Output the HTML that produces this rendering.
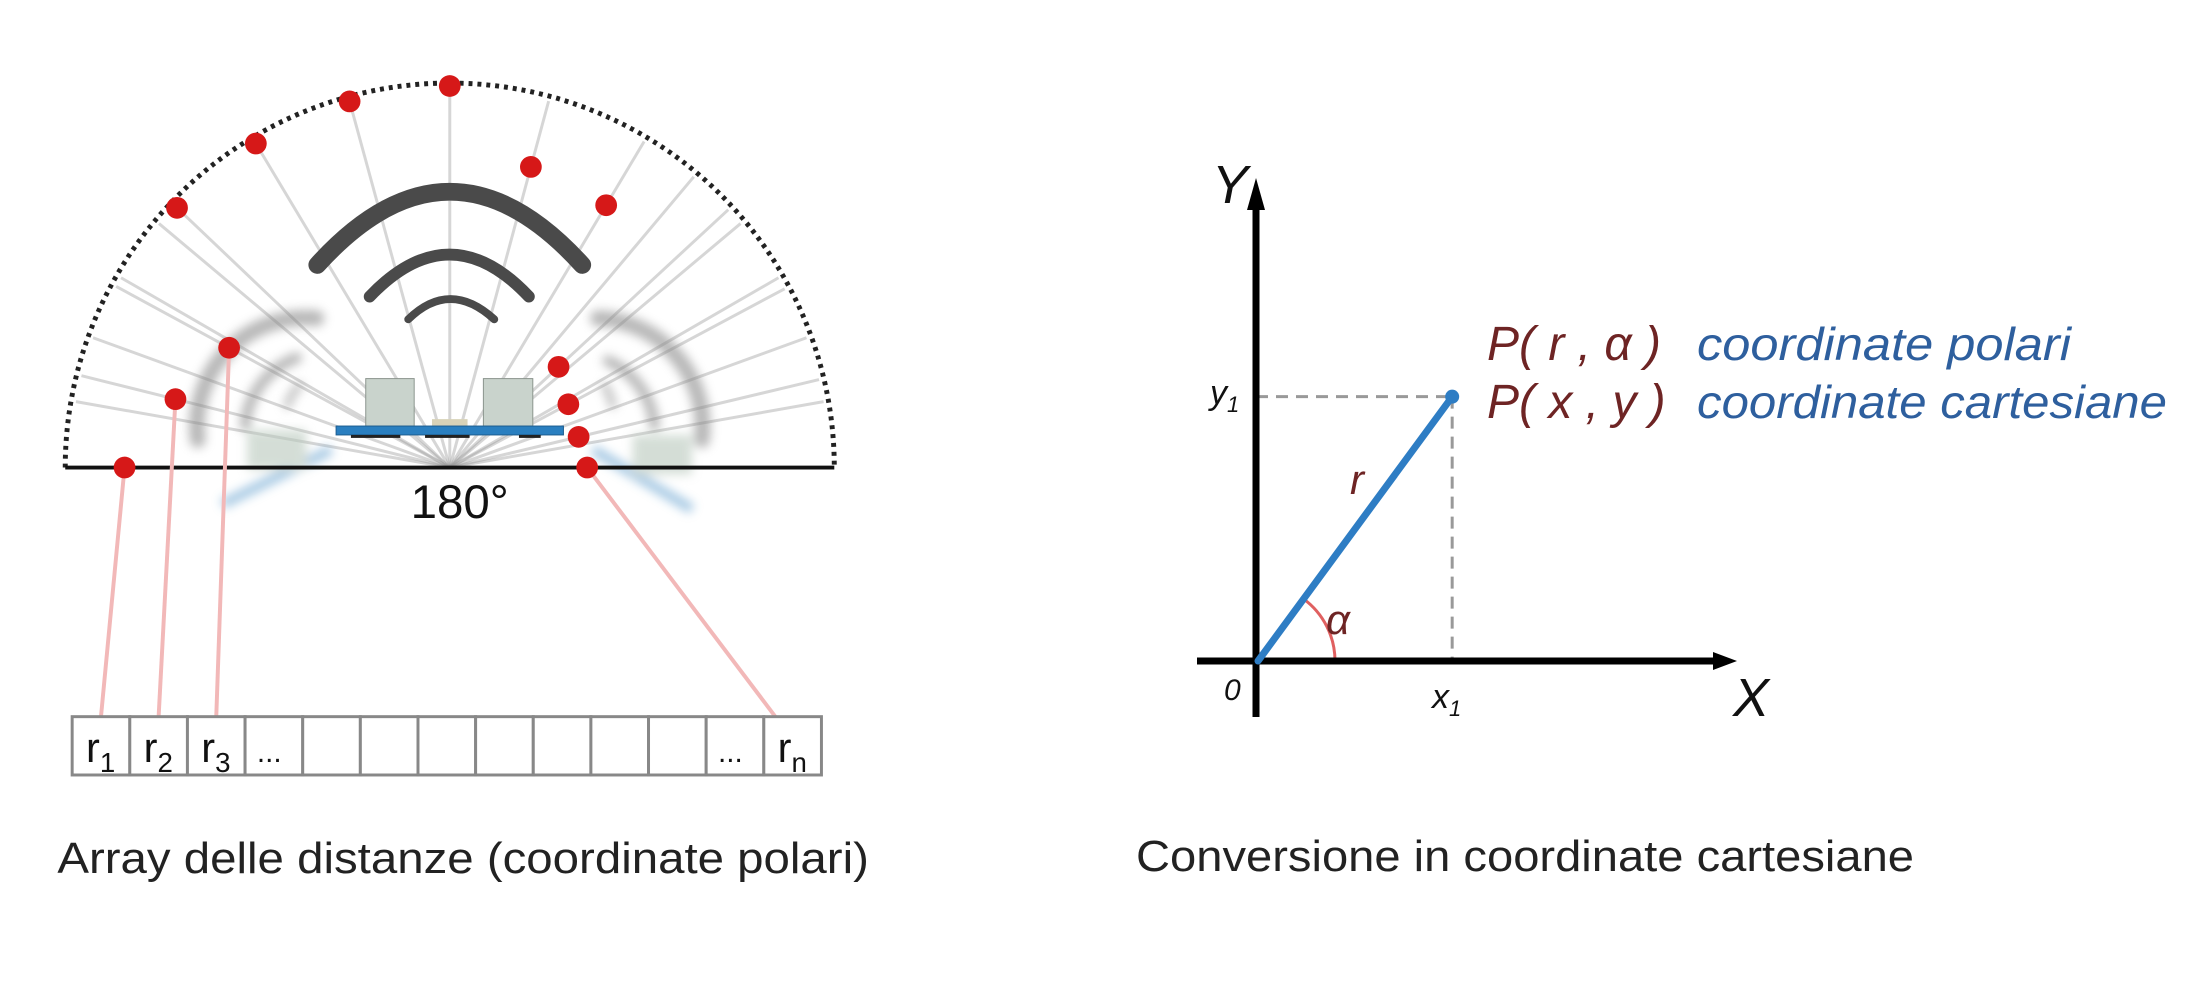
<!DOCTYPE html>
<html><head><meta charset="utf-8"><style>
html,body{margin:0;padding:0;background:#fff;}
svg{display:block;font-family:"Liberation Sans","DejaVu Sans",sans-serif;}
</style></head><body>
<svg id="c" width="2198" height="1000" viewBox="0 0 2198 1000">
<defs>
<filter id="blur" x="-20%" y="-20%" width="140%" height="140%"><feGaussianBlur stdDeviation="5"/></filter>
</defs>
<g id="left" transform="scale(0.9885)">
  <g id="rays"></g>
  <g filter="url(#blur)" opacity="0.6">
    <path d="M200,445 A110,110 0 0 1 320,322" fill="none" stroke="#888" stroke-width="16" stroke-linecap="round"/>
    <path d="M248,430 A80,80 0 0 1 300,362" fill="none" stroke="#888" stroke-width="11" stroke-linecap="round"/>
    <path d="M290,413 A50,50 0 0 1 305,388" fill="none" stroke="#999" stroke-width="8"/>
    <path d="M710,445 A110,110 0 0 0 605,322" fill="none" stroke="#888" stroke-width="16" stroke-linecap="round"/>
    <path d="M662,430 A80,80 0 0 0 615,365" fill="none" stroke="#888" stroke-width="11" stroke-linecap="round"/>
    <path d="M620,413 A50,50 0 0 0 610,388" fill="none" stroke="#999" stroke-width="8"/>
    <path d="M225,510 L335,455" stroke="#6aa4d0" stroke-width="10"/>
    <path d="M600,455 L700,515" stroke="#6aa4d0" stroke-width="10"/>
    <rect x="250" y="435" width="60" height="40" fill="#b8c8bc"/>
    <rect x="640" y="440" width="60" height="40" fill="#b8c8bc"/>
  </g>
  <path d="M66,473 A389,389 0 0 1 844,473" fill="none" stroke="#222" stroke-width="5" stroke-dasharray="4,5"/>
  <line x1="66" y1="473" x2="844" y2="473" stroke="#111" stroke-width="4"/>
  <g fill="none" stroke="#4a4a4a" stroke-linecap="round">
    <path d="M321,268 Q455,120 589,268" stroke-width="18"/>
    <path d="M374,300 Q455,215 535,300" stroke-width="12"/>
    <path d="M413,323 Q455,282 500,323" stroke-width="8"/>
  </g>
  <g>
    <rect x="370" y="383" width="49" height="48" fill="#c9d3cc" stroke="#8a948d"/>
    <rect x="489" y="383" width="50" height="48" fill="#c9d3cc" stroke="#8a948d"/>
    <rect x="437" y="424" width="36" height="8" fill="#d8d2b8"/>
    <rect x="340" y="431" width="230" height="9" fill="#2a7fc0" stroke="#1d5d90"/>
    <rect x="355" y="440" width="50" height="3" fill="#222"/>
    <rect x="430" y="440" width="45" height="3" fill="#222"/>
    <rect x="525" y="440" width="22" height="3" fill="#222"/>
  </g>
  <g id="links"></g>
  <g id="dots"></g>
  <text x="465" y="524" font-size="48" text-anchor="middle" fill="#111">180°</text>
  <g id="cells"></g>
  <text x="58" y="883" font-size="44" fill="#222" textLength="821" lengthAdjust="spacingAndGlyphs">Array delle distanze (coordinate polari)</text>
</g>
<g id="right">
  <path id="alphaArc" fill="none" stroke="#e06060" stroke-width="3"/>
  <line id="dashH" stroke="#999" stroke-width="3" stroke-dasharray="12,8"/>
  <line id="dashV" stroke="#999" stroke-width="3" stroke-dasharray="12,8"/>
  <line x1="1256" y1="195" x2="1256" y2="717" stroke="#000" stroke-width="7"/>
  <polygon points="1256,178 1247,210 1265,210" fill="#000"/>
  <line x1="1197" y1="661" x2="1720" y2="661" stroke="#000" stroke-width="7"/>
  <polygon points="1737,661 1713,652 1713,670" fill="#000"/>
  <line id="rline" stroke="#2e7dc4" stroke-width="7" stroke-linecap="round"/>
  <circle id="pdot" r="7" fill="#2e7dc4"/>
  <g font-style="italic" fill="#111">
    <text x="1212" y="203" font-size="54">Y</text>
    <text x="1733" y="716" font-size="54">X</text>
    <text x="1224" y="700" font-size="30">0</text>
    <text x="1210" y="404" font-size="34">y<tspan font-size="22" dy="8">1</tspan></text>
    <text x="1432" y="708" font-size="34">x<tspan font-size="22" dy="8">1</tspan></text>
  </g>
  <g font-style="italic" fill="#6e2424">
    <text x="1350" y="494" font-size="42">r</text>
    <text x="1326" y="634" font-size="42">α</text>
    <text x="1487" y="360" font-size="48">P( r , α )</text>
    <text x="1487" y="418" font-size="48">P( x , y )</text>
  </g>
  <g font-style="italic" fill="#2e5f9e">
    <text x="1697" y="360" font-size="46" textLength="374" lengthAdjust="spacingAndGlyphs">coordinate polari</text>
    <text x="1697" y="418" font-size="46" textLength="470" lengthAdjust="spacingAndGlyphs">coordinate cartesiane</text>
  </g>
  <text x="1136" y="871" font-size="44" fill="#222" textLength="778" lengthAdjust="spacingAndGlyphs">Conversione in coordinate cartesiane</text>
</g>
</svg>
<script>
const scanAngles = [180, 166, 151.5, 136.4, 120.9, 105.3, 90, 74.9, 59.2, 42.8, 28.1, 13.4, 0];
const scanDistances = [329, 286, 254, 381, 382, 384, 386, 315, 309, 150, 136, 134, 139];
const cellLabels = ["r1","r2","r3","...","","","","","","","","...","rn"];
const linkedIndices = [0, 1, 2, 12];
const linkedCells = [0, 1, 2, 12];
const pointR = [328];
const pointAlpha = [53.7];

const NS = "http://www.w3.org/2000/svg";
const cx = 455, cy = 473, R = 389;
function px(a, r){ return cx + r*Math.cos(a*Math.PI/180); }
function py(a, r){ return cy - r*Math.sin(a*Math.PI/180); }
function mk(tag, attrs, parent){ const e=document.createElementNS(NS,tag); for(const k in attrs) e.setAttribute(k,attrs[k]); parent.appendChild(e); return e; }

const rays=document.getElementById('rays');
const extra=[10,20,30,40,50,140,150,160,170];
scanAngles.concat(extra).forEach(a=>{
  const l=mk('line',{x1:cx,y1:cy,x2:px(a,R-5),y2:py(a,R-5),stroke:'#999','stroke-width':3,'stroke-opacity':0.4},rays);
  
  
});

const cellX0=73, cellW=(831-73)/13, cellY=725, cellH=59;
const cells=document.getElementById('cells');
cellLabels.forEach((lab,i)=>{
  const r=mk('rect',{x:cellX0+i*cellW,y:cellY,width:cellW,height:cellH,fill:'#fff',stroke:'#888','stroke-width':3},cells);
  
  
  if(lab){
    const t=mk('text',{x:cellX0+i*cellW+(lab==='...'?12:14),y:cellY+46,'font-size':42,fill:'#111'},cells);
    
    
    if(lab==='...'){ t.textContent='...'; t.setAttribute('font-size','30'); }
    else { t.textContent='r'; const s=mk('tspan',{'font-size':28,dy:10},t); s.textContent=lab.slice(1); }
  }
});

const links=document.getElementById('links');
linkedIndices.forEach((idx,k)=>{
  const a=scanAngles[idx], d=scanDistances[idx];
  const c=linkedCells[k];
  const l=mk('line',{x1:px(a,d),y1:py(a,d),x2:cellX0+c*cellW+cellW*(c===12?0.2:0.5),y2:cellY,stroke:'#f2b8b8','stroke-width':4},links);
  
  
});

const dots=document.getElementById('dots');
scanAngles.forEach((a,i)=>{
  const c=mk('circle',{cx:px(a,scanDistances[i]),cy:py(a,scanDistances[i]),r:11,fill:'#d61818'},dots);
  
  
});

const ox=1258, oy=661;
const pr=pointR[0], pa=pointAlpha[0]*Math.PI/180;
const Px=ox+pr*Math.cos(pa), Py=oy-pr*Math.sin(pa);
const set=(id,o)=>{const e=document.getElementById(id); for(const k in o) e.setAttribute(k,o[k]);};
set('rline',{x1:ox,y1:oy,x2:Px,y2:Py});
set('pdot',{cx:Px,cy:Py});
set('dashH',{x1:1256,y1:Py,x2:Px,y2:Py});
set('dashV',{x1:Px,y1:Py,x2:Px,y2:oy});
const ar=77;
set('alphaArc',{d:`M${ox+ar},${oy} A${ar},${ar} 0 0 0 ${ox+ar*Math.cos(pa)},${oy-ar*Math.sin(pa)}`});
</script>
</body></html>
